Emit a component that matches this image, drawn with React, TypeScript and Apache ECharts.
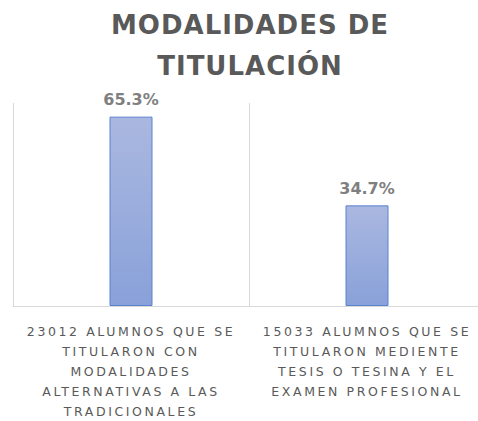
import React, { useEffect, useRef } from "react";
import * as echarts from "echarts";

const titleText = "MODALIDADES DE\nTITULACIÓN";
const categories = [
  "23012 ALUMNOS QUE SE\nTITULARON CON\nMODALIDADES\nALTERNATIVAS A LAS\nTRADICIONALES",
  "15033 ALUMNOS QUE SE\nTITULARON MEDIENTE\nTESIS O TESINA Y EL\nEXAMEN PROFESIONAL",
];
const values = [65.3, 34.7];

export default function App() {
  const ref = useRef<HTMLDivElement>(null);
  useEffect(() => {
    document.body.style.margin = "0";
    document.body.style.overflow = "hidden";
    const chart = echarts.init(ref.current!, null, { renderer: "svg" });
    chart.setOption({
      animation: false,
      title: {
        text: titleText,
        left: 245,
        textAlign: "center",
        top: -1,
        textStyle: {
          fontFamily: "DejaVu Sans",
          fontWeight: "bold",
          fontSize: 26,
          lineHeight: 41,
          color: "#595959",
        },
      },
      grid: { left: 13, right: 1, top: 103, bottom: 111, containLabel: false },
      xAxis: {
        type: "category",
        data: categories,
        axisLine: { show: true, lineStyle: { color: "#d9d9d9", width: 1 } },
        axisTick: { show: false },
        splitLine: { show: true, lineStyle: { color: "#d9d9d9", width: 1 } },
        axisLabel: {
          interval: 0,
          margin: 15,
          fontFamily: "DejaVu Sans",
          fontSize: 12.5,
          lineHeight: 20,
          color: "#595959",
          align: "center",
        },
      },
      yAxis: {
        type: "value",
        min: 0,
        max: 70,
        show: false,
        splitLine: { show: false },
      },
      series: [
        {
          type: "bar",
          data: values,
          barWidth: 43,
          itemStyle: {
            color: new echarts.graphic.LinearGradient(0, 0, 0, 1, [
              { offset: 0, color: "#aab8e0" },
              { offset: 1, color: "#89a1d9" },
            ]),
            borderColor: "#5b82d0",
            borderWidth: 1,
          },
          label: {
            show: true,
            position: "top",
            distance: 9,
            formatter: (p: any) => p.value.toFixed(1) + "%",
            fontFamily: "DejaVu Sans",
            fontWeight: "bold",
            fontSize: 16,
            color: "#7f7f7f",
          },
        },
      ],
    });
    const texts = ref.current!.querySelectorAll("text");
    texts.forEach((t) => {
      const st = (t.getAttribute("style") || "") + " " + (t.getAttribute("font-size") || "");
      if (st.indexOf("12.5px") >= 0) {
        (t as any).style.letterSpacing = "2.6px";
      } else if (st.indexOf("26px") >= 0) {
        (t as any).style.letterSpacing = "1px";
      }
    });
    return () => chart.dispose();
  }, []);
  return (
    <div style={{ width: 478, height: 421, overflow: "hidden", position: "relative" }}>
      <div ref={ref} style={{ width: 486, height: 421 }} />
    </div>
  );
}
